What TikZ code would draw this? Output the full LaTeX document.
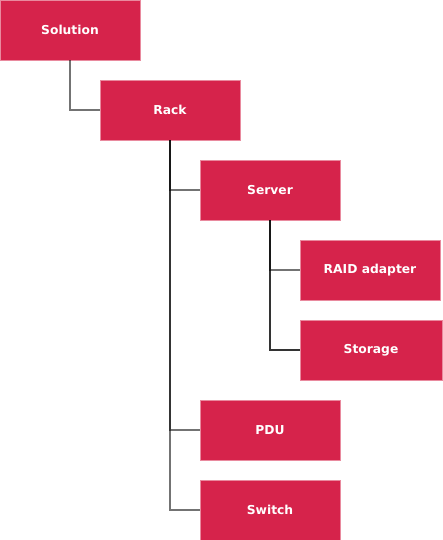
\documentclass[tikz,border=0pt]{standalone}
\usepackage{fontspec}
\setmainfont{DejaVu Sans}
\definecolor{boxred}{HTML}{D6234B}
\definecolor{boxedge}{HTML}{E98A9E}
\begin{document}
\begin{tikzpicture}[x=1pt,y=-1pt,
  box/.style={rectangle, fill=boxred, draw=boxedge, line width=0.6pt, minimum width=140pt, minimum height=60pt, inner sep=0pt, text=white, font=\fontsize{12.3}{14}\selectfont\bfseries},
  conn/.style={draw=black, draw opacity=0.55, line width=1.1pt},
  darkconn/.style={conn, draw opacity=0.8}]
\useasboundingbox (0,0) rectangle (442,540);
\node[box] (sol) at (70,30) {Solution};
\node[box] (rack) at (170,110) {Rack};
\node[box] (srv) at (270,190) {Server};
\node[box] (raid) at (370,270) {RAID adapter};
\node[box] (stor) at (371,350) [minimum width=142pt] {Storage};
\node[box] (pdu) at (270,430) {PDU};
\node[box] (sw) at (270,510) {Switch};
\draw[conn] (sol.south) |- (rack.west);
\draw[conn] (rack.south) |- (srv.west);
\draw[conn] (rack.south) |- (pdu.west);
\draw[conn] (rack.south) |- (sw.west);
\draw[conn] (srv.south) |- (raid.west);
\draw[darkconn] (srv.south) |- (stor.west);
\end{tikzpicture}
\end{document}
